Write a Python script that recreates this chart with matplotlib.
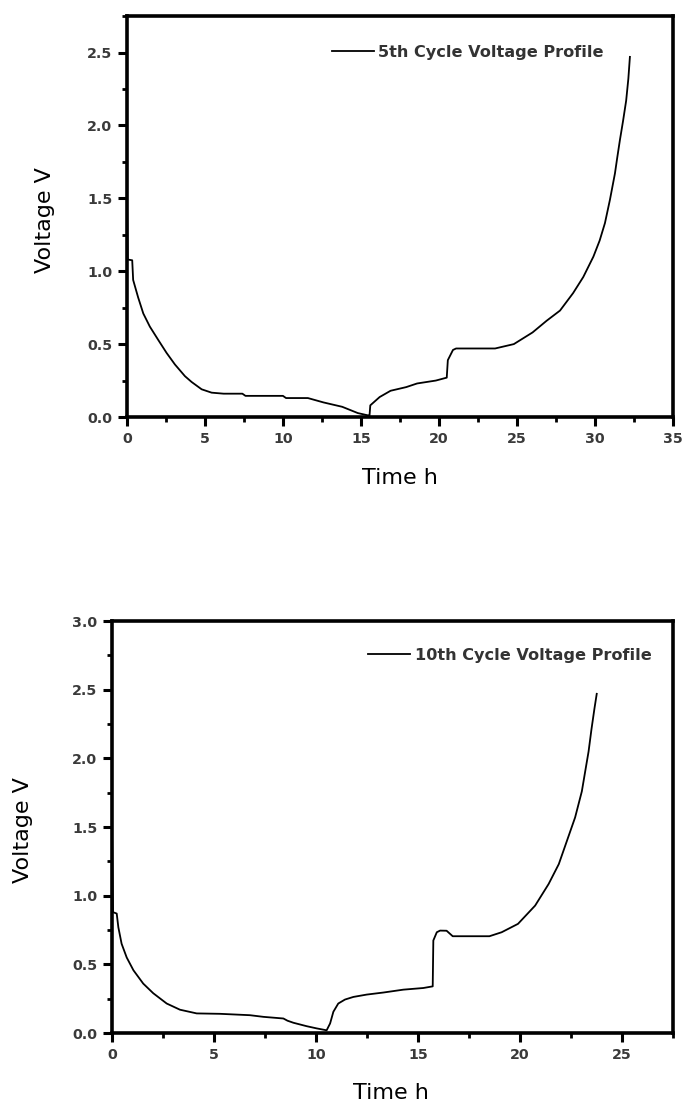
import matplotlib
matplotlib.use("Agg")
import matplotlib.pyplot as plt
from matplotlib.ticker import MultipleLocator

# 5th cycle voltage profile (time h, voltage V)
t5 = [0.0, 0.05, 0.34, 0.40, 0.72, 1.05, 1.47, 2.0, 2.54, 3.08, 3.72, 4.15, 4.79,
      5.43, 6.2, 7.4, 7.6, 10.0, 10.2, 11.6, 12.6, 13.8, 14.8, 15.5, 15.55, 15.6,
      16.2, 16.9, 17.9, 18.6, 19.8, 20.5, 20.57, 20.9, 21.1, 23.6, 24.8, 26.0, 26.9,
      27.76, 28.6, 29.25, 29.9, 30.3, 30.64, 30.96, 31.28, 31.43, 31.6, 31.8, 32.0,
      32.14, 32.24]
v5 = [1.55, 1.08, 1.075, 0.94, 0.82, 0.71, 0.62, 0.53, 0.44, 0.36, 0.28, 0.24, 0.19,
      0.167, 0.16, 0.16, 0.145, 0.145, 0.13, 0.13, 0.10, 0.07, 0.027, 0.01, 0.01, 0.08,
      0.137, 0.18, 0.205, 0.23, 0.25, 0.27, 0.39, 0.46, 0.47, 0.47, 0.50, 0.58, 0.66,
      0.73, 0.85, 0.96, 1.10, 1.21, 1.33, 1.49, 1.67, 1.78, 1.90, 2.03, 2.17, 2.32,
      2.47]

# 10th cycle voltage profile (time h, voltage V)
t10 = [0.0, 0.05, 0.23, 0.31, 0.47, 0.72, 1.05, 1.53, 2.02, 2.68, 3.33, 4.15, 5.3,
       6.76, 7.42, 8.4, 8.6, 8.89, 9.54, 10.03, 10.52, 10.69, 10.85, 11.09, 11.42,
       11.83, 12.48, 13.3, 14.28, 15.26, 15.72, 15.75, 15.92, 16.08, 16.4, 16.7, 18.5,
       19.1, 19.9, 20.74, 21.4, 21.9, 22.3, 22.7, 23.03, 23.2, 23.36, 23.5, 23.65,
       23.76]
v10 = [1.46, 0.88, 0.87, 0.77, 0.65, 0.55, 0.457, 0.36, 0.29, 0.215, 0.17, 0.143,
       0.14, 0.13, 0.118, 0.106, 0.09, 0.075, 0.05, 0.034, 0.02, 0.07, 0.155, 0.215,
       0.244, 0.263, 0.28, 0.295, 0.316, 0.328, 0.34, 0.674, 0.734, 0.746, 0.745, 0.705,
       0.705, 0.734, 0.795, 0.928, 1.085, 1.23, 1.40, 1.57, 1.76, 1.91, 2.05, 2.21,
       2.365, 2.47]

labels = ["5th Cycle Voltage Profile", "10th Cycle Voltage Profile"]
xlabel = "Time h"
ylabel = "Voltage V"

fig = plt.figure(figsize=(6.86, 11.07), dpi=100)
ax1 = fig.add_axes([0.185, 0.6233, 0.796, 0.3622])
ax2 = fig.add_axes([0.1633, 0.0668, 0.8178, 0.3722])

tick_color = "#3a3a3a"

def style(ax, xlim, ylim, ymajor):
    ax.set_xlim(*xlim)
    ax.set_ylim(*ylim)
    ax.xaxis.set_major_locator(MultipleLocator(5))
    ax.xaxis.set_minor_locator(MultipleLocator(2.5))
    ax.yaxis.set_major_locator(MultipleLocator(ymajor))
    ax.yaxis.set_minor_locator(MultipleLocator(ymajor / 2))
    for s in ax.spines.values():
        s.set_linewidth(2.6)
    ax.tick_params(which="major", direction="out", length=6.5, width=2.2,
                   labelsize=10.3, labelcolor=tick_color, pad=4)
    ax.tick_params(which="minor", direction="out", length=3.5, width=2.0)
    for lab in ax.get_xticklabels() + ax.get_yticklabels():
        lab.set_fontweight("bold")
    ax.set_xlabel(xlabel, fontsize=16)
    ax.set_ylabel(ylabel, fontsize=16)

ax1.plot(t5, v5, color="black", lw=1.3, label=labels[0])
style(ax1, (0, 35), (0, 2.75), 0.5)
ax1.xaxis.set_label_coords(0.5, -0.127)
ax1.yaxis.set_label_coords(-0.132, 0.49)
ax1.legend(loc="center left", bbox_to_anchor=(0.375, 0.910), frameon=False,
           borderpad=0, borderaxespad=0, handlelength=2.6, handletextpad=0.3,
           prop={"size": 11.6, "weight": "bold"}, labelcolor="#333333")

ax2.plot(t10, v10, color="black", lw=1.3, label=labels[1])
style(ax2, (0, 27.5), (0, 3.0), 0.5)
ax2.xaxis.set_label_coords(0.497, -0.121)
ax2.yaxis.set_label_coords(-0.141, 0.493)
ax2.legend(loc="center left", bbox_to_anchor=(0.456, 0.917), frameon=False,
           borderpad=0, borderaxespad=0, handlelength=2.6, handletextpad=0.3,
           prop={"size": 11.6, "weight": "bold"}, labelcolor="#333333")

fig.savefig("out.png", dpi=100)
